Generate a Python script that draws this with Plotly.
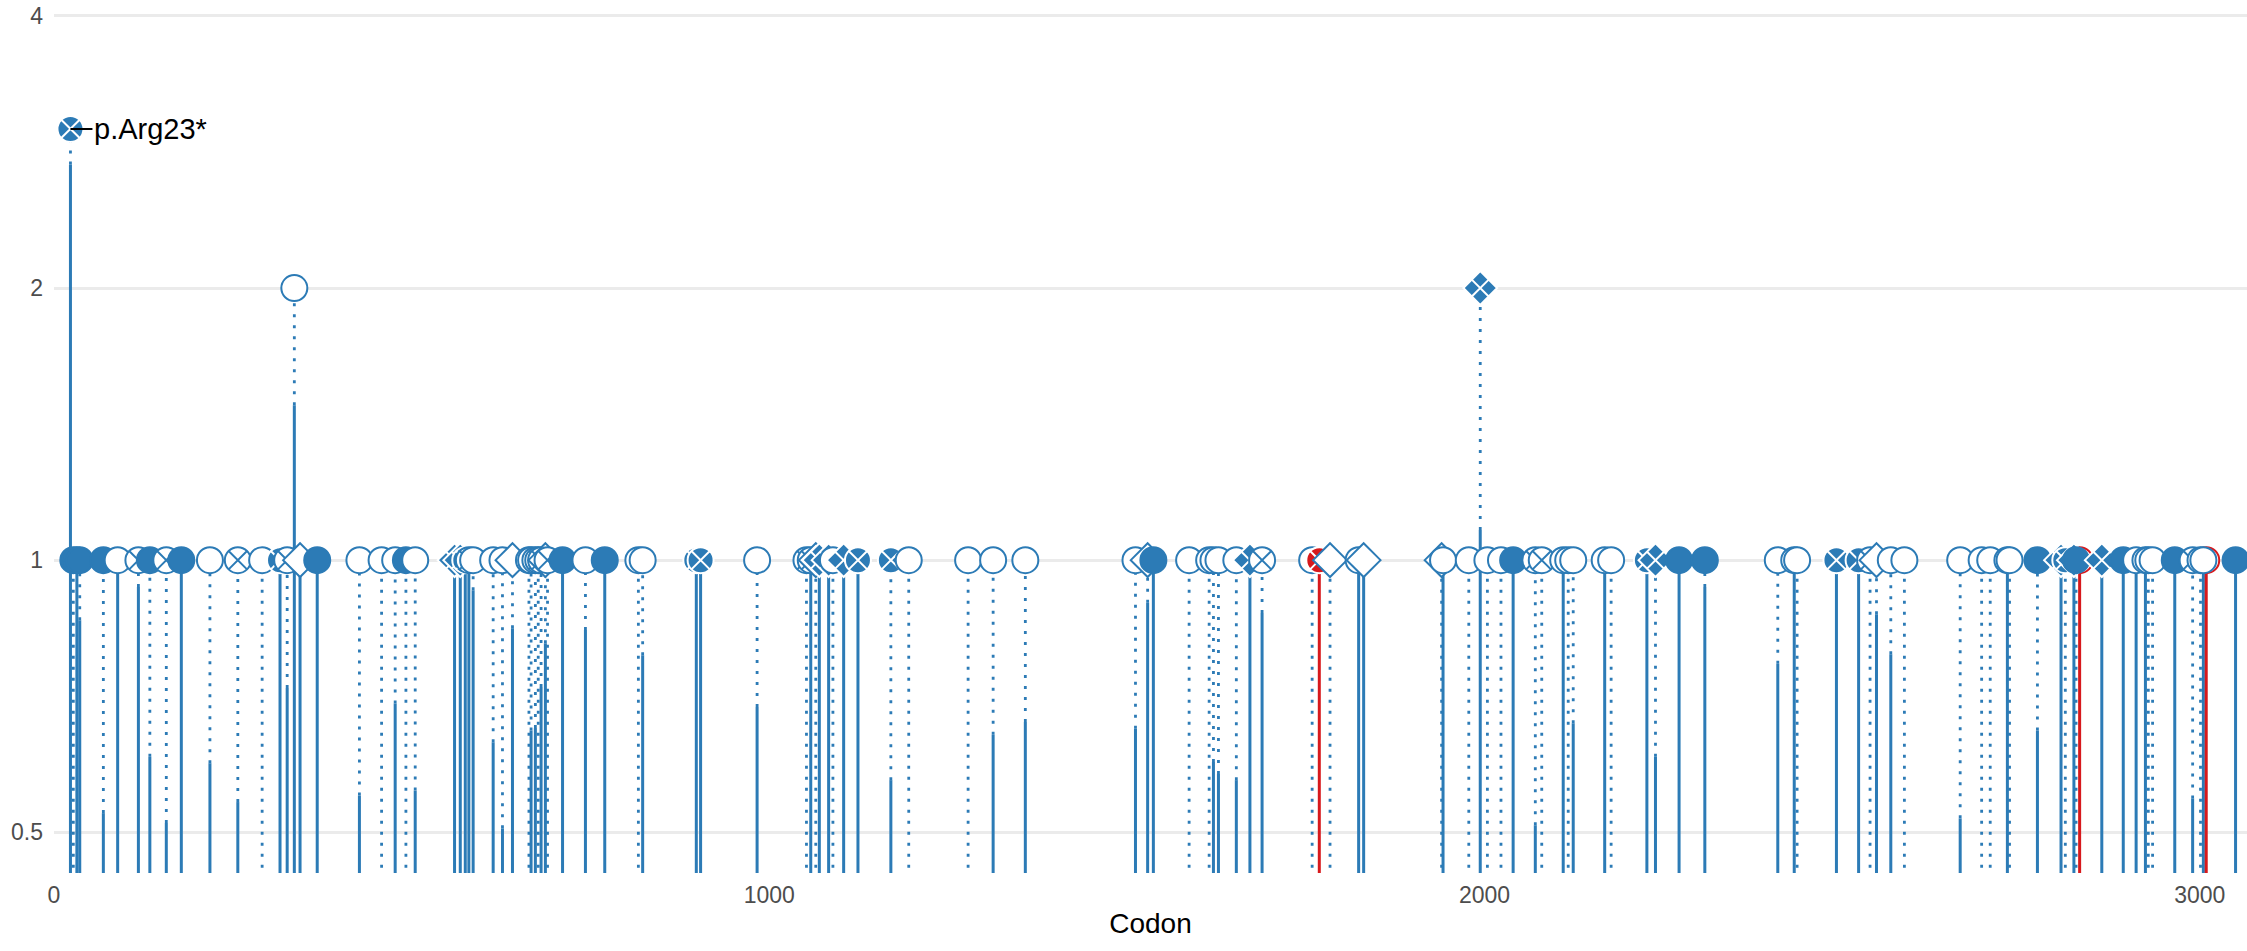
import numpy as np
import plotly.graph_objects as go

# ---------------- data ----------------
codons = [23, 27, 32, 36, 69, 89, 118, 134, 157, 178, 218, 257, 291, 316, 326, 336, 344, 368,
          427, 458, 477, 492, 505, 560, 568, 575, 580, 586, 614, 627, 641, 664, 667, 673, 677,
          681, 687, 690, 711, 743, 770, 817, 823, 898, 904, 983, 1052, 1058, 1065, 1070, 1083,
          1089, 1104, 1124, 1170, 1195, 1278, 1313, 1358, 1512, 1529, 1537, 1587, 1615, 1621,
          1628, 1653, 1672, 1689, 1759, 1769, 1784, 1824, 1831, 1940, 1942, 1978, 1994, 2004,
          2023, 2040, 2071, 2080, 2110, 2117, 2124, 2168, 2177, 2227, 2239, 2272, 2308, 2410,
          2433, 2437, 2492, 2523, 2539, 2548, 2568, 2587, 2665, 2695, 2707, 2731, 2734, 2773,
          2806, 2812, 2824, 2827, 2832, 2863, 2893, 2911, 2924, 2928, 2934, 2965, 2990, 3001,
          3005, 3009, 3050]
heights = [3, 1, 1, 1, 1, 1, 1, 1, 1, 1, 1, 1, 1, 1, 1, 2, 1, 1,
           1, 1, 1, 1, 1, 1, 1, 1, 1, 1, 1, 1, 1, 1, 1, 1, 1,
           1, 1, 1, 1, 1, 1, 1, 1, 1, 1, 1, 1, 1, 1, 1, 1,
           1, 1, 1, 1, 1, 1, 1, 1, 1, 1, 1, 1, 1, 1,
           1, 1, 1, 1, 1, 1, 1, 1, 1, 1, 1, 1, 2, 1,
           1, 1, 1, 1, 1, 1, 1, 1, 1, 1, 1, 1, 1, 1,
           1, 1, 1, 1, 1, 1, 1, 1, 1, 1, 1, 1, 1, 1,
           1, 1, 1, 1, 1, 1, 1, 1, 1, 1, 1, 1, 1, 1,
           1, 1, 1]
# height up to which the stem is solid (0 = fully dotted)
solid_tops = [2.74, 0, 1, 0.858, 0.525, 1, 0.934, 0.606, 0.512, 1, 0.596, 0.540, 0, 1, 0.722, 1.484, 1, 1,
              0.549, 0, 0.694, 0, 0.556, 1, 1, 1, 1, 0.926, 0.629, 0.505, 0.841, 0, 0.648, 0.652, 0,
              0.724, 0.809, 0, 1, 0.837, 1, 0, 0.785, 1, 1, 0.688, 0, 1, 0, 1, 1,
              0, 1, 1, 0.571, 0, 0, 0.641, 0.662, 0.651, 0.897, 1, 0, 0, 0.598,
              0.580, 0.571, 1, 0.874, 0, 1, 0, 1, 1, 0, 1, 0, 1.08, 0,
              0, 1, 0.509, 0, 1, 0, 0.66, 1, 0, 1, 0.606, 1, 0.934, 0.768,
              1, 0, 1, 1, 0, 0.871, 0.787, 0, 0.518, 0, 0, 1, 0, 0.648,
              1, 0, 1, 0, 1, 1, 1, 1, 1, 0, 0, 1, 0.545, 0,
              1, 1, 1]
shapes = ["fcx", "fc", "fc", "fc", "fc", "oc", "ocx", "fc", "ocx", "fc", "oc", "ocx", "oc", "fcx", "ocx", "oc", "od", "fc",
          "oc", "oc", "oc", "fc", "oc", "fd", "fd", "fcx", "ocx", "oc", "oc", "oc", "od", "oc", "oc", "oc", "ocx",
          "ocx", "od", "ocx", "fc", "oc", "fc", "oc", "oc", "fcx", "fcx", "oc", "ocx", "ocx", "od", "fd", "fd",
          "oc", "fd", "fcx", "fcx", "oc", "oc", "oc", "oc", "oc", "od", "fc", "oc", "oc", "oc",
          "oc", "oc", "fd", "ocx", "oc", "fcx", "od", "oc", "od", "od", "oc", "oc", "fd", "oc",
          "oc", "fc", "ocx", "ocx", "oc", "oc", "oc", "oc", "oc", "fcx", "fd", "fc", "fc", "oc",
          "oc", "oc", "fcx", "fcx", "ocx", "od", "oc", "oc", "oc", "oc", "oc", "oc", "oc", "fc",
          "fd", "fcx", "fd", "fc", "oc", "fd", "fc", "oc", "oc", "oc", "oc", "fc", "ocx", "oc",
          "oc", "oc", "fc"]
colors = ["b"] * len(codons)
for _c in (1769, 2832, 3009):
    colors[codons.index(_c)] = "r"

x_ticks = [0, 1000, 2000, 3000]
y_ticks = [0.5, 1, 2, 4]
y_tick_text = ["0.5", "1", "2", "4"]
label_codon = 23
label_text = "p.Arg23*"

# ---------------- styling ----------------
BLUE = "#2c7bb6"
RED = "#d7191c"
COL = {"b": BLUE, "r": RED}
Y_BOTTOM = 0.3
FONT = "Liberation Sans, Arial, Helvetica, sans-serif"

fig = go.Figure()

def stem_trace(col_key, solid):
    xs, ys = [], []
    for c, h, s, k in zip(codons, heights, solid_tops, colors):
        if k != col_key:
            continue
        if solid:
            if s > 0:
                xs += [c, c, None]
                ys += [Y_BOTTOM, s, None]
        else:
            lo = max(s, Y_BOTTOM)
            if lo < h:
                xs += [c, c, None]
                ys += [lo, h, None]
    return go.Scatter(x=xs, y=ys, mode="lines", hoverinfo="skip",
                      line=dict(color=COL[col_key], width=3 if solid else 2.8,
                                dash="solid" if solid else "3px,8px"))

for k in ("b", "r"):
    fig.add_trace(stem_trace(k, False))
    fig.add_trace(stem_trace(k, True))

SYM = {"fc": "circle", "oc": "circle", "fcx": "circle-x", "ocx": "circle-x",
       "fd": "diamond-x", "od": "diamond"}

def marker_trace(idx):
    sy, fc, lc = [], [], []
    for i in idx:
        col = COL[colors[i]]
        s = shapes[i]
        sy.append(SYM[s])
        if s in ("fc",):
            fc.append(col); lc.append(col)
        elif s in ("fcx", "fd"):
            fc.append(col); lc.append("white")
        else:
            fc.append("white"); lc.append(col)
    return go.Scatter(x=[codons[i] for i in idx], y=[heights[i] for i in idx],
                      mode="markers", hoverinfo="x+y",
                      marker=dict(symbol=sy, size=26, color=fc,
                                  line=dict(color=lc, width=2)))

back = [i for i in range(len(codons)) if colors[i] == "r" and shapes[i] == "oc"]
front = [i for i in range(len(codons)) if i not in back]
fig.add_trace(marker_trace(back))
fig.add_trace(marker_trace(front))

li = codons.index(label_codon)
fig.add_annotation(x=label_codon, y=np.log10(heights[li]), xref="x", yref="y",
                   text=label_text, showarrow=True, arrowhead=0, arrowwidth=2,
                   arrowcolor="black", ax=22, ay=0, xanchor="left",
                   font=dict(family=FONT, size=29, color="black"))

fig.update_layout(
    width=2247, height=951, autosize=False,
    margin=dict(l=54, r=0, t=0, b=78),
    plot_bgcolor="white", paper_bgcolor="white",
    showlegend=False,
    font=dict(family=FONT),
    xaxis=dict(range=[0, 3066], tickvals=x_ticks, showgrid=False, zeroline=False,
               showline=False, ticks="", ticklabelstandoff=6,
               tickfont=dict(size=23, color="#4d4d4d", family=FONT),
               title=dict(text="Codon", font=dict(size=28, color="black", family=FONT),
                          standoff=6)),
    yaxis=dict(type="log", range=[np.log10(0.4507), np.log10(4.166)],
               tickvals=y_ticks, ticktext=y_tick_text, showgrid=True,
               gridcolor="#ebebeb", gridwidth=2.5, zeroline=False, showline=False,
               ticks="", ticklabelstandoff=10,
               tickfont=dict(size=23, color="#4d4d4d", family=FONT)),
)

fig.write_html("out.html", config={"displayModeBar": False},
               post_script="document.body.style.margin='0';document.body.style.overflow='hidden';")
